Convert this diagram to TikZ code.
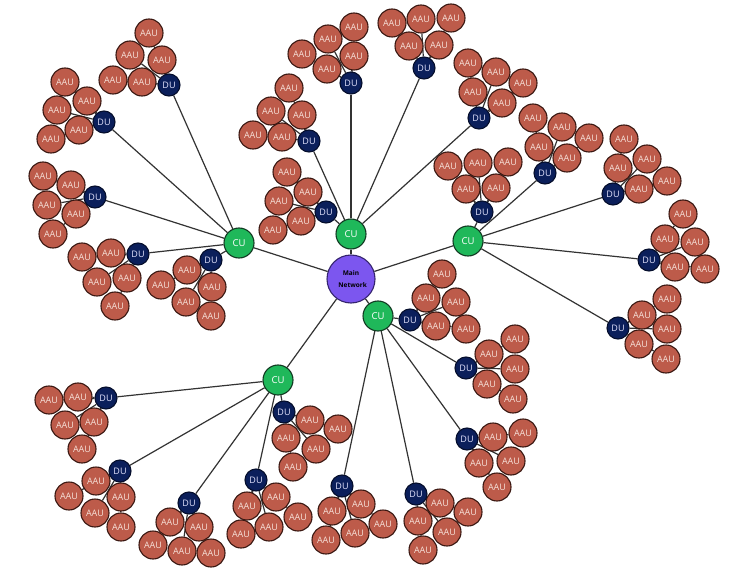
\documentclass[tikz,border=0pt]{standalone}
\usepackage{fontspec}
\setmainfont{Open Sans}
\usepackage{xcolor}
\definecolor{aauRed}{HTML}{BD5B4A}
\definecolor{aauEdge}{HTML}{3A1812}
\definecolor{aauText}{HTML}{F6E0D8}
\definecolor{duNavy}{HTML}{0B1F5B}
\definecolor{duEdge}{HTML}{050E2C}
\definecolor{cuGreen}{HTML}{1FB85A}
\definecolor{cuEdge}{HTML}{123A22}
\definecolor{netPurple}{HTML}{7C56EF}
\definecolor{netEdge}{HTML}{35246E}
\definecolor{linkGray}{HTML}{333333}
\usetikzlibrary{backgrounds}

\tikzset{
  aau/.style={circle,draw=aauEdge,line width=1.1pt,fill=aauRed,text=aauText,
              minimum size=28pt,inner sep=0pt,font=\fontsize{9}{10}\selectfont},
  du/.style={circle,draw=duEdge,line width=1.1pt,fill=duNavy,text=white!90!blue,
             minimum size=22pt,inner sep=0pt,font=\fontsize{9}{10}\selectfont},
  cu/.style={circle,draw=cuEdge,line width=1.1pt,fill=cuGreen,text=white,
             minimum size=30pt,inner sep=0pt,font=\fontsize{9.5}{10}\selectfont},
  mainnet/.style={circle,draw=netEdge,line width=1.1pt,fill=netPurple,text=black,
                  minimum size=48pt,inner sep=0pt,align=center,
                  font=\bfseries\fontsize{6.5}{12}\selectfont},
  link/.style={draw=linkGray,line width=1.2pt}
}

% #1 cu, #2 du name, #3/#4 du position, #5 aau positions
\newcommand{\dugroup}[5]{%
  \foreach \ax/\ay [count=\k] in {#5}
    {\node[aau] (#2-\k) at (\ax,\ay) {AAU};}
  \node[du] (#2) at (#3,#4) {DU};
  \begin{scope}[on background layer]
    \draw[link] (#1) -- (#2);
    \foreach \k in {1,...,5} {\draw[link] (#2) -- (#2-\k);}
  \end{scope}}

\begin{document}
\begin{tikzpicture}[x=1pt,y=-1pt]
  \useasboundingbox (0,0) rectangle (744,572);
  \begin{scope}[on background layer]
    \fill[white] (0,0) rectangle (744,572);
  \end{scope}

  \node[mainnet] (net) at (351,279) {Main\\\ \ Network};
  \node[cu] (cuA) at (239,243) {CU};
  \node[cu] (cuB) at (351,234) {CU};
  \node[cu] (cuC) at (468,241) {CU};
  \node[cu] (cuD) at (378,316) {CU};
  \node[cu] (cuE) at (278,380) {CU};
  \begin{scope}[on background layer]
    \foreach \c in {cuA,cuB,cuC,cuD,cuE} {\draw[link] (net) -- (\c);}
  \end{scope}

  % left CU
  \dugroup{cuA}{duA1}{169}{85}{149/33,130/55,162/60,113/80,142/82}
  \dugroup{cuA}{duA2}{104}{122}{65/82,87/101,57/110,79/130,51/139}
  \dugroup{cuA}{duA3}{95}{197}{43/176,71/185,47/205,76/214,53/234}
  \dugroup{cuA}{duA4}{138}{254}{82/257,111/253,97/282,127/278,115/306}
  \dugroup{cuA}{duA5}{211}{260}{187/270,161/285,212/287,186/302,211/316}

  % top CU
  \dugroup{cuB}{duB1}{351}{83}{354/27,328/39,302/54,354/56,327/69}
  \dugroup{cuB}{duB2}{424}{68}{392/23,421/19,451/18,409/46,439/45}
  \dugroup{cuB}{duB3}{309}{141}{289/88,271/111,302/115,253/135,282/137}
  \dugroup{cuB}{duB4}{326}{212}{287/172,308/192,279/201,301/221,273/230}
  \dugroup{cuB}{duB5}{479}{118}{468/63,496/72,523/83,473/92,502/103}

  % right CU
  \dugroup{cuC}{duC1}{482}{212}{448/166,478/163,508/162,466/189,496/188}
  \dugroup{cuC}{duC2}{545}{173}{533/118,562/127,589/138,539/147,567/158}
  \dugroup{cuC}{duC3}{613}{194}{624/139,647/159,618/168,667/181,639/189}
  \dugroup{cuC}{duC4}{649}{260}{683/214,665/239,695/242,675/267,705/269}
  \dugroup{cuC}{duC5}{618}{328}{667/299,642/315,667/329,639/344,666/359}

  % lower right CU
  \dugroup{cuD}{duD1}{410}{320}{442/274,426/298,456/302,436/326,466/329}
  \dugroup{cuD}{duD2}{466}{368}{515/339,489/354,515/369,487/384,513/399}
  \dugroup{cuD}{duD3}{467}{439}{493/437,523/433,479/463,511/461,497/487}
  \dugroup{cuD}{duD4}{416}{494}{440/503,468/512,418/521,447/532,423/550}
  \dugroup{cuD}{duD5}{342}{486}{361/504,332/511,383/524,355/533,326/540}

  % bottom left CU
  \dugroup{cuE}{duE1}{106}{398}{49/400,78/397,65/425,94/422,82/449}
  \dugroup{cuE}{duE2}{120}{471}{96/481,69/496,121/497,95/513,121/527}
  \dugroup{cuE}{duE3}{189}{503}{170/522,199/527,153/545,182/551,211/553}
  \dugroup{cuE}{duE4}{256}{480}{276/497,247/506,298/517,269/527,241/534}
  \dugroup{cuE}{duE5}{284}{412}{310/420,338/429,286/438,316/449,293/467}
\end{tikzpicture}
\end{document}
